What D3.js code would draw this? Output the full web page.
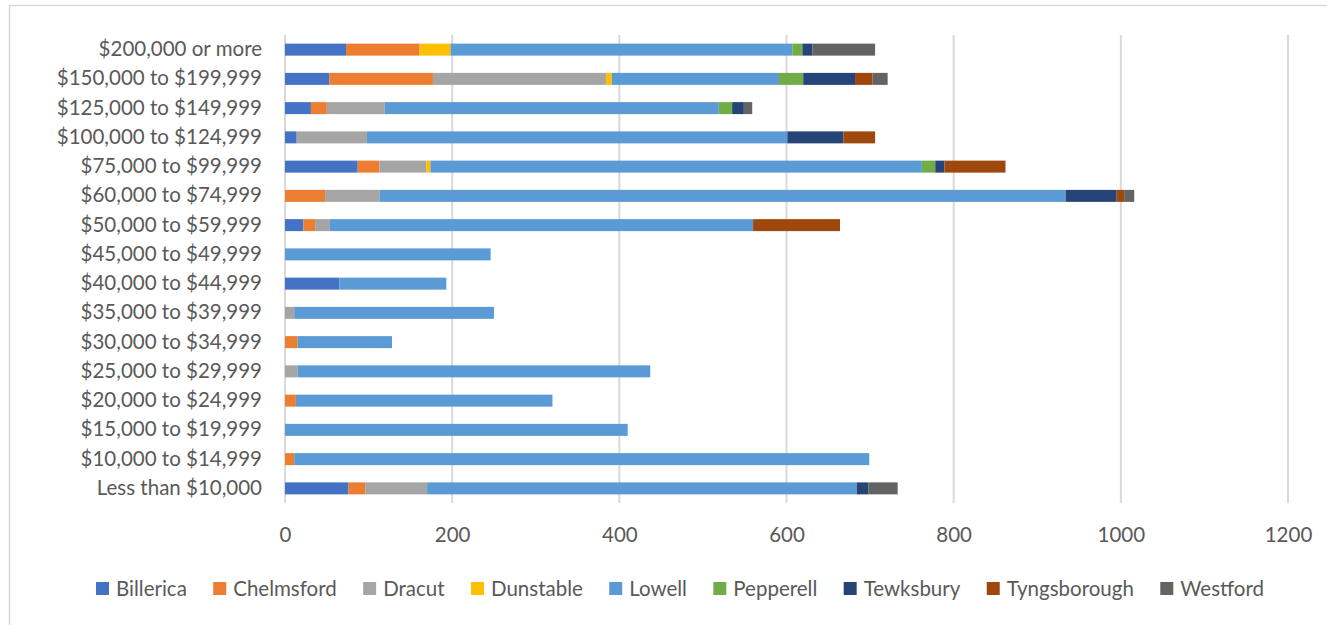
<!DOCTYPE html>
<html>
<head>
<meta charset="utf-8">
<script src="https://cdn.jsdelivr.net/npm/d3@7"></script>
<style>
  body { margin: 0; background: #fff; }
  text { font-family: Lato, "Open Sans", sans-serif; fill: #595959; }
</style>
</head>
<body>
<svg id="chart" width="1327" height="625"></svg>
<script>
// income brackets, bottom to top as in the chart
var categories = ["Less than $10,000", "$10,000 to $14,999", "$15,000 to $19,999", "$20,000 to $24,999",
  "$25,000 to $29,999", "$30,000 to $34,999", "$35,000 to $39,999", "$40,000 to $44,999",
  "$45,000 to $49,999", "$50,000 to $59,999", "$60,000 to $74,999", "$75,000 to $99,999",
  "$100,000 to $124,999", "$125,000 to $149,999", "$150,000 to $199,999", "$200,000 or more"];

var towns = ["Billerica", "Chelmsford", "Dracut", "Dunstable", "Lowell", "Pepperell", "Tewksbury", "Tyngsborough", "Westford"];
var colors = ["#4472C4", "#ED7D31", "#A5A5A5", "#FFC000", "#5B9BD5", "#70AD47", "#264478", "#9E480E", "#636363"];

// one array per town, same order as categories
var billerica    = [76, 0, 0, 0, 0, 0, 0, 65, 0, 22, 0, 87, 14, 31, 53, 73];
var chelmsford   = [20, 11, 0, 13, 0, 15, 0, 0, 0, 14, 48, 26, 0, 19, 124, 88];
var dracut       = [74, 0, 0, 0, 15, 0, 11, 0, 0, 17, 65, 56, 84, 69, 207, 0];
var dunstable    = [0, 0, 0, 0, 0, 0, 0, 0, 0, 0, 0, 5, 0, 0, 7, 37];
var lowell       = [514, 688, 410, 307, 422, 113, 239, 128, 246, 507, 821, 588, 503, 400, 200, 409];
var pepperell    = [0, 0, 0, 0, 0, 0, 0, 0, 0, 0, 0, 16, 0, 16, 29, 12];
var tewksbury    = [14, 0, 0, 0, 0, 0, 0, 0, 0, 0, 61, 11, 67, 14, 62, 12];
var tyngsborough = [0, 0, 0, 0, 0, 0, 0, 0, 0, 104, 9, 73, 38, 0, 21, 0];
var westford     = [35, 0, 0, 0, 0, 0, 0, 0, 0, 0, 12, 0, 0, 10, 18, 75];

var xTicks = [0, 200, 400, 600, 800, 1000, 1200];

var series = [billerica, chelmsford, dracut, dunstable, lowell, pepperell, tewksbury, tyngsborough, westford];

var rows = categories.map(function(c, i) {
  var r = {cat: c};
  towns.forEach(function(t, j) { r[t] = series[j][i]; });
  return r;
});

var svg = d3.select("#chart");
var fontSize = "20.5px";

// chart border
svg.append("rect")
  .attr("x", 9.5).attr("y", 5.5)
  .attr("width", 1400).attr("height", 700)
  .attr("fill", "none").attr("stroke", "#D9D9D9").attr("stroke-width", 1.5);

var plot = {left: 285, right: 1288, top: 35, bottom: 503};

var x = d3.scaleLinear().domain([0, 1200]).range([plot.left, plot.right]);
var y = d3.scaleBand().domain(categories.slice().reverse())
  .range([plot.top, plot.bottom]).paddingInner(0.59).paddingOuter(0.295);

// gridlines
svg.append("g").selectAll("line").data(xTicks).join("line")
  .attr("x1", function(d) { return x(d); }).attr("x2", function(d) { return x(d); })
  .attr("y1", plot.top).attr("y2", plot.bottom)
  .attr("stroke", "#D9D9D9").attr("stroke-width", 2);

var stack = d3.stack().keys(towns)(rows);

svg.append("g").selectAll("g").data(stack).join("g")
  .attr("fill", function(d, i) { return colors[i]; })
  .selectAll("rect").data(function(d) { return d; }).join("rect")
  .attr("x", function(d) { return x(d[0]); })
  .attr("width", function(d) { return x(d[1]) - x(d[0]); })
  .attr("y", function(d) { return y(d.data.cat); })
  .attr("height", y.bandwidth());

// y axis labels
var yAxis = svg.append("g")
  .attr("transform", "translate(" + plot.left + ",0)")
  .call(d3.axisLeft(y).tickSize(0).tickPadding(23));
yAxis.select(".domain").remove();
yAxis.selectAll("text").style("font-size", fontSize).style("font-family", "Lato, sans-serif").attr("fill", "#595959");

// x axis labels
var xAxis = svg.append("g")
  .attr("transform", "translate(0," + plot.bottom + ")")
  .call(d3.axisBottom(x).tickValues(xTicks).tickSize(0).tickPadding(24).tickFormat(d3.format("d")));
xAxis.select(".domain").remove();
xAxis.selectAll("text").style("font-size", fontSize).style("font-family", "Lato, sans-serif").attr("fill", "#595959");

// legend, spread from 96 to 1264 like the original
var legend = svg.append("g").attr("transform", "translate(96,589)");
var items = towns.map(function(t, i) {
  var g = legend.append("g");
  g.append("rect").attr("x", 0).attr("y", -7).attr("width", 13).attr("height", 13).attr("fill", colors[i]);
  var txt = g.append("text").attr("x", 20).attr("y", 0).attr("dy", "0.35em")
    .style("font-size", fontSize).text(t);
  return {g: g, w: 20 + txt.node().getComputedTextLength()};
});
var used = d3.sum(items, function(d) { return d.w; });
var gap = (1264 - 96 - used) / (items.length - 1);
var lx = 0;
items.forEach(function(it) {
  it.g.attr("transform", "translate(" + lx + ",0)");
  lx += it.w + gap;
});
</script>
</body>
</html>
